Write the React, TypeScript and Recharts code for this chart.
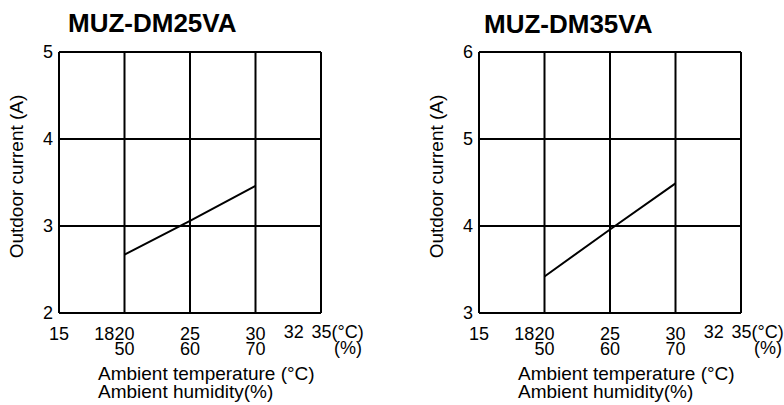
import React from 'react';
import { LineChart, Line, XAxis, YAxis, CartesianGrid } from 'recharts';

const FONT = '"Liberation Sans", Arial, sans-serif';

// X axis: ambient temperature (°C)
const temperatureTicks = [15, 18, 20, 25, 30, 32, 35];
const gridTemperatures = [15, 20, 25, 30, 35];
// humidity labels under temperature ticks
const humidityTemps = [20, 25, 30];
const humidityLabels = ['50', '60', '70'];

// series
const temperatures = [20, 25, 30];
const currentDM25 = [2.67, 3.06, 3.46];
const currentDM35 = [3.42, 3.96, 4.49];

const yTicksDM25 = [2, 3, 4, 5];
const yTicksDM35 = [3, 4, 5, 6];

const titles = ['MUZ-DM25VA', 'MUZ-DM35VA'];
const yAxisTitle = 'Outdoor current (A)';
const xAxisTitle1 = 'Ambient temperature (°C)';
const xAxisTitle2 = 'Ambient humidity(%)';

const dataDM25 = temperatures.map((t, i) => ({ t, a: currentDM25[i] }));
const dataDM35 = temperatures.map((t, i) => ({ t, a: currentDM35[i] }));

const tickDx: Record<number, number> = { 18: 6, 32: 12 };

const TempTick = (props: any) => {
  const { x, y, payload } = props;
  const v = payload.value as number;
  const hIdx = humidityTemps.indexOf(v);
  const common = { fill: '#000', fontSize: 18, fontFamily: FONT };
  if (v === 35) {
    return (
      <g>
        <text x={x - 9.5} y={y + 17} textAnchor="start" {...common}>35(°C)</text>
        <text x={x + 27} y={y + 33} textAnchor="middle" {...common}>(%)</text>
      </g>
    );
  }
  return (
    <g>
      <text x={x + (tickDx[v] || 0)} y={y + (v === 32 ? 17 : 19)} textAnchor="middle" {...common}>
        {String(v)}
      </text>
      {hIdx >= 0 && (
        <text x={x} y={y + 34} textAnchor="middle" {...common}>
          {humidityLabels[hIdx]}
        </text>
      )}
    </g>
  );
};

const XLabel = (props: any) => {
  const vb = props.viewBox || { x: 59, y: 313 };
  const common = { fill: '#000', fontSize: 19, fontFamily: FONT };
  return (
    <g>
      <text x={vb.x + 39} y={vb.y + 67} textAnchor="start" {...common}>{xAxisTitle1}</text>
      <text x={vb.x + 39} y={vb.y + 85} textAnchor="start" {...common}>{xAxisTitle2}</text>
    </g>
  );
};

const YLabel = () => {
  const cx = 23;
  const cy = 176.5;
  return (
    <text
      x={cx}
      y={cy}
      transform={`rotate(-90, ${cx}, ${cy})`}
      textAnchor="middle"
      fill="#000"
      fontSize={19}
      fontFamily={FONT}
    >
      {yAxisTitle}
    </text>
  );
};

function Panel({ title, data, yTicks, left, titleX, titleTop }: any) {
  return (
    <div style={{ position: 'absolute', left, top: 0, width: 392, height: 405 }}>
      <div
        style={{
          position: 'absolute',
          left: titleX,
          top: titleTop,
          fontFamily: FONT,
          fontWeight: 'bold',
          fontSize: 26,
          lineHeight: '26px',
          color: '#000',
          whiteSpace: 'nowrap',
        }}
      >
        {title}
      </div>
      <LineChart width={392} height={405} data={data} margin={{ top: 52, right: 71, bottom: 0, left: 0 }}>
        <CartesianGrid
          stroke="#000"
          strokeWidth={2}
          verticalValues={gridTemperatures}
          horizontalValues={yTicks}
        />
        <XAxis
          type="number"
          dataKey="t"
          domain={[15, 35]}
          ticks={temperatureTicks}
          interval={0}
          tick={<TempTick />}
          tickLine={false}
          axisLine={false}
          height={92}
          label={<XLabel />}
        />
        <YAxis
          type="number"
          domain={[yTicks[0], yTicks[yTicks.length - 1]]}
          ticks={yTicks}
          interval={0}
          width={59}
          tickLine={false}
          axisLine={false}
          tickMargin={0}
          tick={{ fill: '#000', fontSize: 18, fontFamily: FONT }}
          label={<YLabel />}
        />
        <Line
          type="linear"
          dataKey="a"
          stroke="#000"
          strokeWidth={2}
          dot={false}
          isAnimationActive={false}
        />
      </LineChart>
    </div>
  );
}

export default function App() {
  return (
    <div style={{ position: 'absolute', left: 0, top: 0, width: 784, height: 405, background: '#fff', overflow: 'hidden' }}>
      <Panel title={titles[0]} data={dataDM25} yTicks={yTicksDM25} left={0} titleX={68} titleTop={10} />
      <Panel title={titles[1]} data={dataDM35} yTicks={yTicksDM35} left={420} titleX={64} titleTop={11} />
    </div>
  );
}
